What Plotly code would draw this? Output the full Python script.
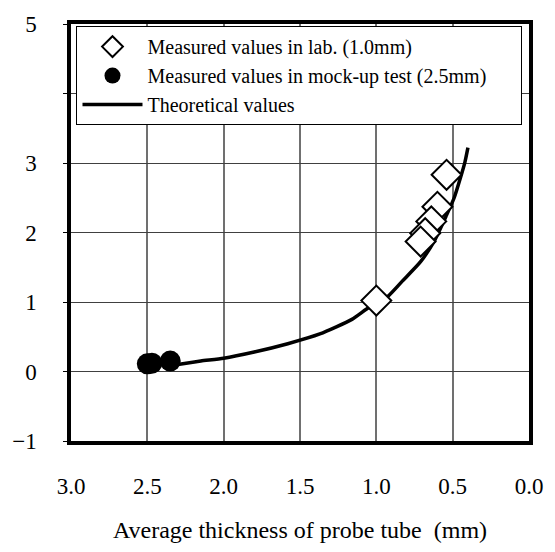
import plotly.graph_objects as go

# Measured values in lab (diamonds)
lab_x = [0.54, 0.60, 0.64, 0.68, 0.71, 1.00]
lab_y = [2.83, 2.37, 2.16, 1.99, 1.87, 1.02]

# Measured values in mock-up test (filled circles)
mock_x = [2.50, 2.47, 2.35]
mock_y = [0.11, 0.12, 0.15]

# Theoretical values (curve)
theo_x = [2.30, 2.15, 2.00, 1.80, 1.58, 1.37, 1.16, 1.05, 0.93, 0.83, 0.71, 0.62, 0.54, 0.49, 0.45, 0.42, 0.40]
theo_y = [0.10, 0.15, 0.19, 0.28, 0.40, 0.54, 0.75, 0.92, 1.07, 1.30, 1.58, 1.88, 2.25, 2.50, 2.78, 3.01, 3.22]

x_ticks = [3.0, 2.5, 2.0, 1.5, 1.0, 0.5, 0.0]
x_ticktext = ["3.0", "2.5", "2.0", "1.5", "1.0", "0.5", "0.0"]
y_ticks = [-1, 0, 1, 2, 3, 4, 5]
y_ticktext = ["\u22121", "0", "1", "2", "3", "", "5"]

FONT = "Liberation Serif"

fig = go.Figure()
fig.add_trace(go.Scatter(
    x=theo_x, y=theo_y, mode="lines", name="Theoretical values",
    line=dict(color="black", width=3.5, shape="spline", smoothing=0.6),
    showlegend=False))
fig.add_trace(go.Scatter(
    x=lab_x, y=lab_y, mode="markers", name="Measured values in lab. (1.0mm)",
    marker=dict(symbol="diamond", size=23, color="white",
                line=dict(color="black", width=2))))
fig.add_trace(go.Scatter(
    x=mock_x, y=mock_y, mode="markers",
    name="Measured values in mock-up test (2.5mm)" + "\u00a0" * 6,
    marker=dict(symbol="circle", size=21, color="black",
                line=dict(color="black", width=0))))
# legend entry for the curve, placed last
fig.add_trace(go.Scatter(
    x=[None], y=[None], mode="lines", name="Theoretical values",
    line=dict(color="black", width=3.5)))

fig.update_layout(
    width=555, height=552,
    margin=dict(l=65, r=14, t=17, b=103),
    paper_bgcolor="white", plot_bgcolor="white",
    font=dict(family=FONT, color="black", size=20),
    showlegend=True,
    legend=dict(
        x=0.012, y=0.995, xanchor="left", yanchor="top",
        bgcolor="white", bordercolor="black", borderwidth=1,
        font=dict(family=FONT, size=20, color="black"),
        itemwidth=60, tracegroupgap=0,
    ),
)
fig.update_xaxes(
    range=[3.0, 0.0], tickvals=x_ticks, ticktext=x_ticktext,
    showgrid=True, gridcolor="#707070", gridwidth=1.5,
    showline=True, linecolor="black", linewidth=3.5, mirror=True,
    ticks="", zeroline=False,
    tickfont=dict(family=FONT, size=23),
    ticklabelstandoff=22,
    title=dict(text="Average thickness of probe tube  (mm)",
               font=dict(family=FONT, size=24), standoff=24),
)
fig.update_yaxes(
    range=[-1, 5], tickvals=y_ticks, ticktext=y_ticktext,
    showgrid=True, gridcolor="#404040", gridwidth=1.2,
    showline=True, linecolor="black", linewidth=3.5, mirror=True,
    ticks="outside", ticklen=4, tickcolor="black", zeroline=False,
    tickfont=dict(family=FONT, size=23),
    ticklabelstandoff=22,
)

fig.write_html("out.html")
